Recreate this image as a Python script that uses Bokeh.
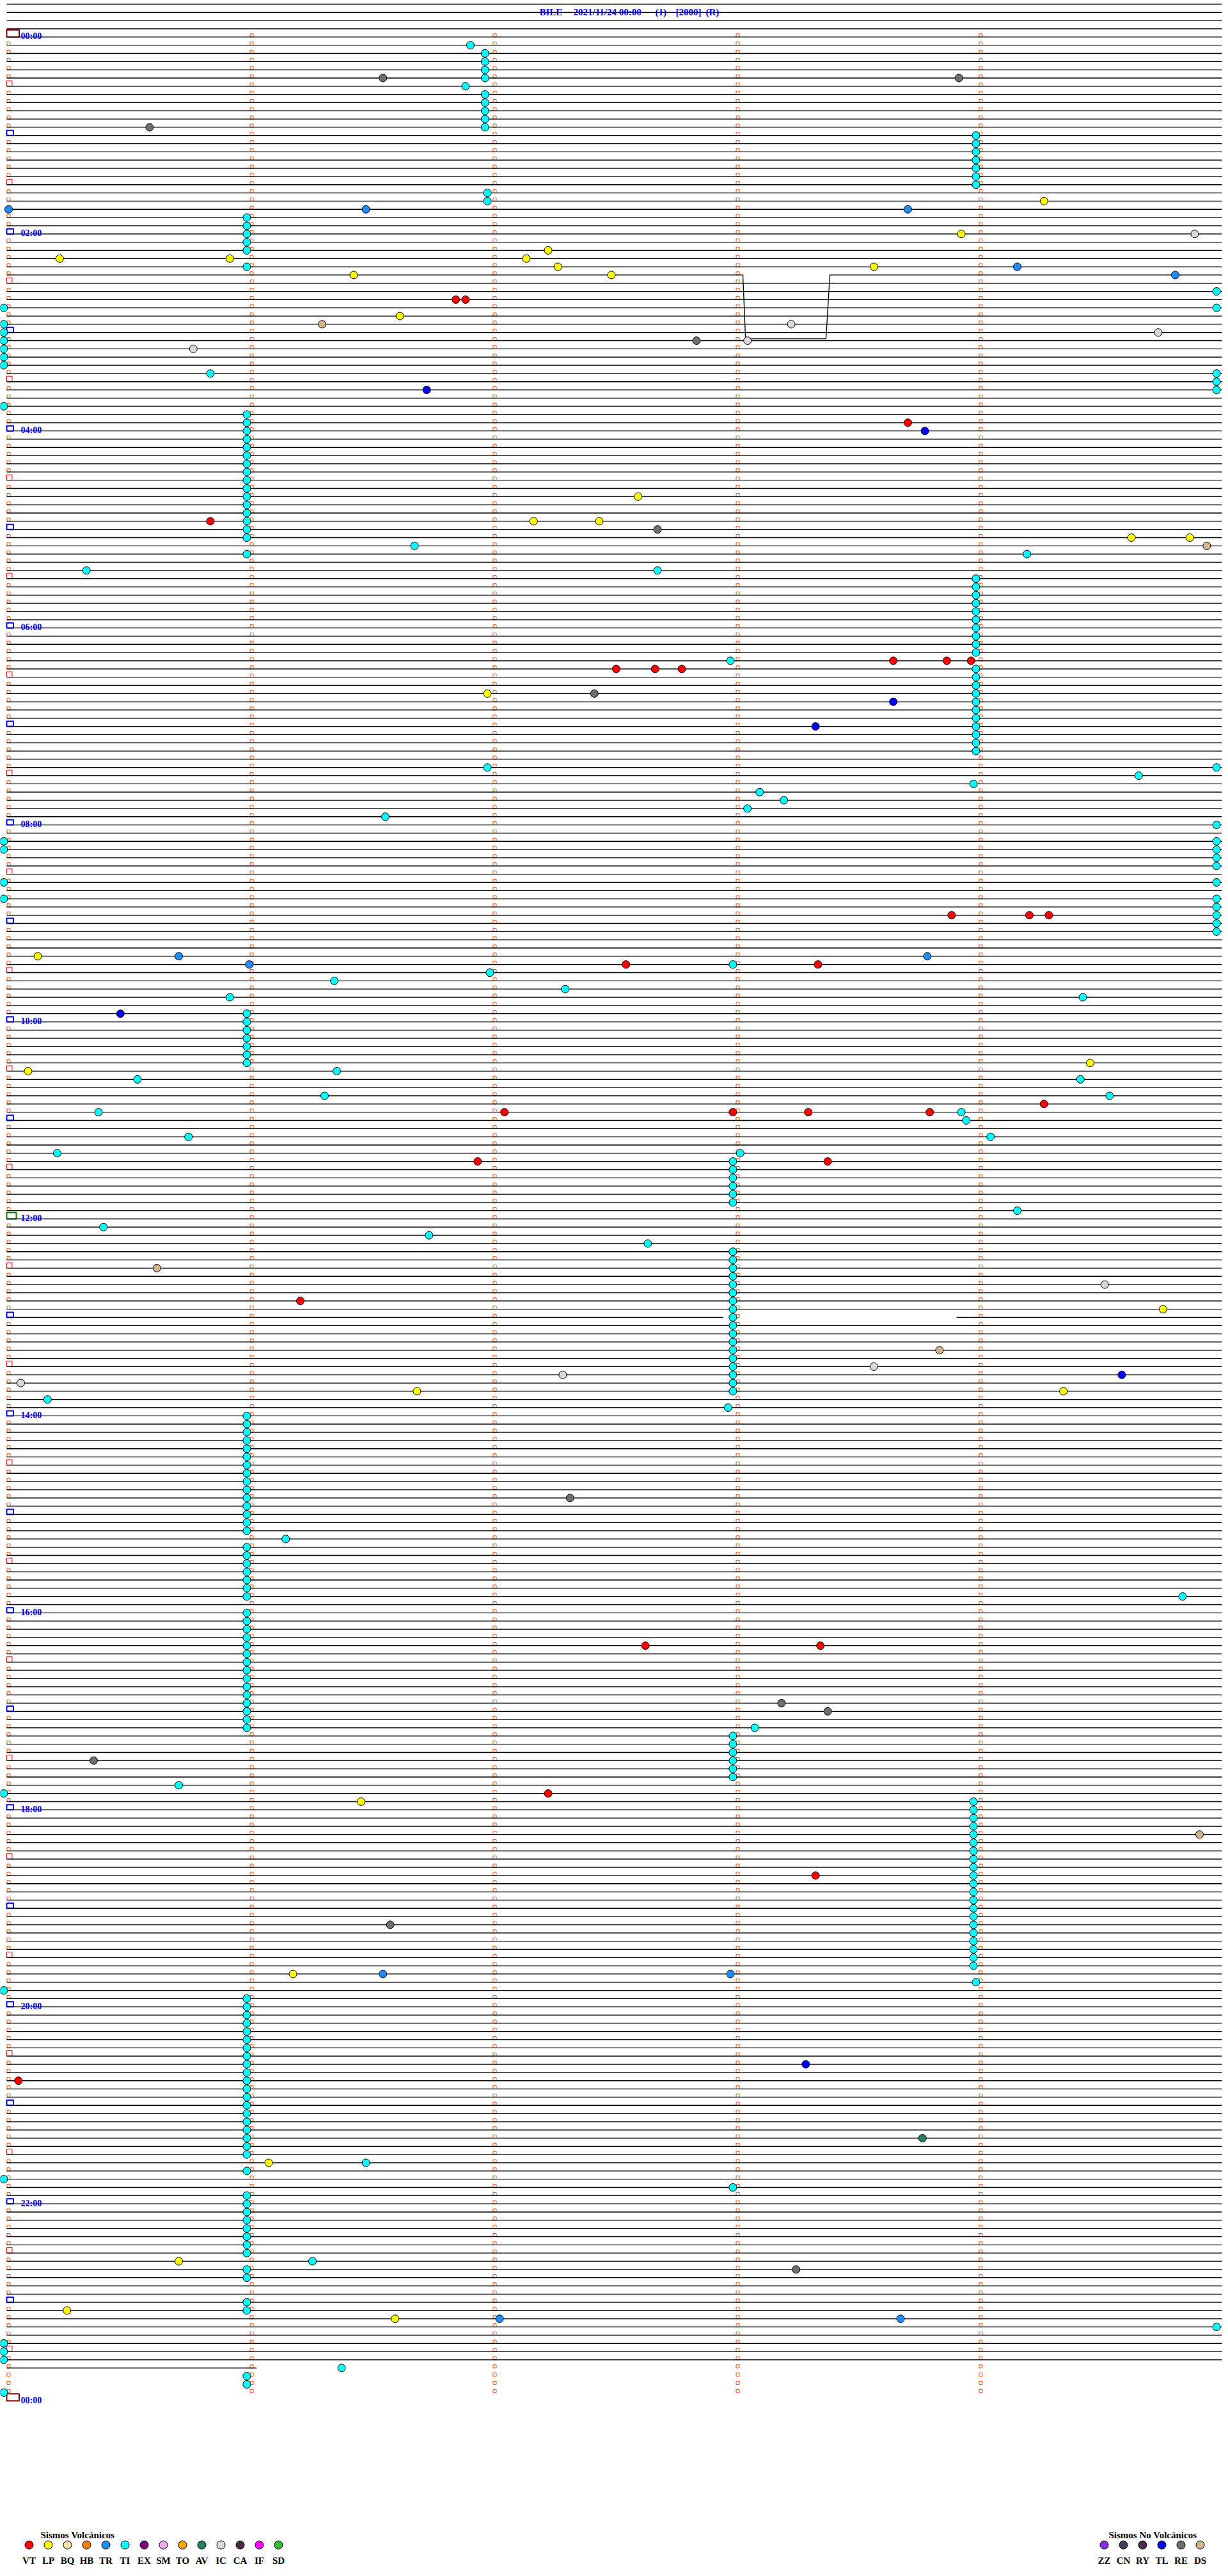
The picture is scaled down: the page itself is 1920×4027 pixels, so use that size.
from bokeh.plotting import figure
from bokeh.models import Range1d
from bokeh.core.properties import value
from bokeh.embed import file_html
from bokeh.resources import INLINE

# ---------------- data ----------------
TITLE_PARTS = ["BILE", "2021/11/24 00:00", "(1)", "[2000]", "(R)"]
HOUR_LABELS = ["00:00", "02:00", "04:00", "06:00", "08:00", "10:00", "12:00",
               "14:00", "16:00", "18:00", "20:00", "22:00", "00:00"]
N_ROWS = 288            # 5-minute rows in the day
ROW_MINUTES = 5
TRACE_FIRST_ROW = -4
TRACE_LAST_ROW = 284
TRACE_LAST_END = 1.02   # minute where the last trace row stops
GAP_ROW = 156
GAP_FROM = 2.94
GAP_TO = 3.90
EXC_ROW = 29
EXC_X = [3.021, 3.032, 3.363, 3.379]
EXC_DY = [0.0, 7.77, 7.77, 0.0]

TYPES_V = ["VT", "LP", "BQ", "HB", "TR", "TI", "EX", "SM", "TO", "AV", "IC", "CA", "IF", "SD"]
COLORS_V = ["#FF0000", "#FFFF00", "#F2E2A8", "#FF8000", "#1E8CFF", "#00FFFF", "#800080",
            "#F0A8E8", "#FFA500", "#1F7F5F", "#D8D8D8", "#4A2A4A", "#FF00FF", "#30C030"]
TYPES_NV = ["ZZ", "CN", "RY", "TL", "RE", "DS"]
COLORS_NV = ["#8A2BE2", "#4C3A5C", "#4A2A4A", "#0000FF", "#6E6E6E", "#D2B48C"]

# events: row index (5-min row) and minute inside the row
TI_ROW = [1, 2, 3, 4, 5, 6, 7, 8, 9, 10, 11,
          12, 13, 14, 15, 16, 17, 18, 19, 20,
          22, 23, 24, 25, 26, 28, 31, 33, 33,
          35, 36, 37, 38, 39, 40, 41, 41, 42, 43, 45,
          46, 47, 48, 49, 50, 51, 52, 53, 54, 55, 56, 57, 58, 59, 60, 61,
          62, 63, 63, 65, 65,
          66, 67, 68, 69, 70, 71, 72, 73, 74, 75, 76,
          77, 78, 79, 80, 81, 82, 83, 84, 85, 86, 87,
          89, 89, 90, 91, 92, 93, 94, 95, 96,
          98, 98, 99, 99, 100, 101, 103, 103, 105, 105, 106, 107, 108, 109,
          113, 114, 115, 116, 117, 117,
          119, 120, 121, 122, 123, 124, 125, 126, 127, 127, 129, 129,
          131, 131, 132, 134, 134, 136, 136,
          137, 138, 139, 140, 141, 142, 143, 145, 146, 147,
          148, 149, 150, 151, 152, 153, 154, 155, 156, 157, 158, 159,
          160, 161, 162, 163, 164, 165, 166, 167,
          168, 169, 170, 171, 172, 173, 174, 175, 176, 177, 178, 179, 180, 181, 182,
          183, 184, 185, 186, 187, 188, 189, 190, 190,
          192, 193, 194, 195, 196, 197, 198, 199, 200, 201, 202, 203, 204, 205, 206,
          206, 207, 208, 209, 210, 211, 212, 213, 214,
          215, 216, 217, 218, 219, 220, 221, 222, 223, 224, 225, 226, 227, 228,
          229, 230, 231, 232, 233, 234, 235, 237, 238,
          239, 240, 241, 242, 243, 244, 245, 246, 247, 248, 249, 250, 251, 252,
          253, 254, 255, 256, 257, 258, 259, 260, 261, 262,
          263, 264, 265, 266, 267, 268, 269, 270, 271, 272, 273, 276, 277, 279,
          281, 282, 283, 284, 285, 286, 287]
TI_MIN = [1.90, 1.96, 1.96, 1.96, 1.96, 1.88, 1.96, 1.96, 1.96, 1.96, 1.96,
          3.98, 3.98, 3.98, 3.98, 3.98, 3.98, 3.98, 1.97, 1.97,
          0.98, 0.98, 0.98, 0.98, 0.98, 0.98, 4.97, -0.02, 4.97,
          -0.02, -0.02, -0.02, -0.02, -0.02, -0.02, 0.83, 4.97, 4.97, 4.97, -0.02,
          0.98, 0.98, 0.98, 0.98, 0.98, 0.98, 0.98, 0.98, 0.98, 0.98, 0.98, 0.98, 0.98, 0.98, 0.98, 0.98,
          1.67, 0.98, 4.19, 0.32, 2.67,
          3.98, 3.98, 3.98, 3.98, 3.98, 3.98, 3.98, 3.98, 3.98, 3.98, 2.97,
          3.98, 3.98, 3.98, 3.98, 3.98, 3.98, 3.98, 3.98, 3.98, 3.98, 3.98,
          1.97, 4.97, 4.65, 3.97, 3.09, 3.19, 3.04, 1.55, 4.97,
          -0.02, 4.97, -0.02, 4.97, 4.97, 4.97, -0.02, 4.97, -0.02, 4.97, 4.97, 4.97, 4.97, 4.97,
          2.98, 1.98, 1.34, 2.29, 0.91, 4.42,
          0.98, 0.98, 0.98, 0.98, 0.98, 0.98, 0.98, 1.35, 0.53, 4.41, 1.30, 4.53,
          0.37, 3.92, 3.94, 0.74, 4.04, 0.20, 3.01,
          2.98, 2.98, 2.98, 2.98, 2.98, 2.98, 4.15, 0.39, 1.73, 2.63,
          2.98, 2.98, 2.98, 2.98, 2.98, 2.98, 2.98, 2.98, 2.98, 2.98, 2.98, 2.98,
          2.98, 2.98, 2.98, 2.98, 2.98, 2.98, 0.16, 2.96,
          0.98, 0.98, 0.98, 0.98, 0.98, 0.98, 0.98, 0.98, 0.98, 0.98, 0.98, 0.98, 0.98, 0.98, 0.98,
          1.14, 0.98, 0.98, 0.98, 0.98, 0.98, 0.98, 0.98, 4.83,
          0.98, 0.98, 0.98, 0.98, 0.98, 0.98, 0.98, 0.98, 0.98, 0.98, 0.98, 0.98, 0.98, 0.98, 0.98,
          3.07, 2.98, 2.98, 2.98, 2.98, 2.98, 2.98, 0.70, -0.02,
          3.97, 3.97, 3.97, 3.97, 3.97, 3.97, 3.97, 3.97, 3.97, 3.97, 3.97, 3.97, 3.97, 3.97,
          3.97, 3.97, 3.97, 3.97, 3.97, 3.97, 3.97, 3.98, -0.02,
          0.98, 0.98, 0.98, 0.98, 0.98, 0.98, 0.98, 0.98, 0.98, 0.98, 0.98, 0.98, 0.98, 0.98,
          0.98, 0.98, 0.98, 0.98, 0.98, 0.98, 1.47, 0.98, -0.02, 2.98,
          0.98, 0.98, 0.98, 0.98, 0.98, 0.98, 0.98, 0.98, 1.25, 0.98, 0.98, 0.98, 0.98, 4.97,
          -0.02, -0.02, -0.02, 1.37, 0.98, 0.98, -0.02]

LP_ROW = [20, 24, 26, 27, 27, 27, 28, 28, 29, 29, 34, 56, 59, 59, 61, 61, 80,
          112, 125, 126, 155, 165, 165, 215, 236, 259, 271, 277, 278]
LP_MIN = [4.26, 3.92, 2.22, 0.21, 0.91, 2.13, 2.26, 3.56, 1.42, 2.48, 1.61, 2.59, 2.16, 2.43, 4.62, 4.86, 1.97,
          0.12, 4.45, 0.08, 4.75, 1.68, 4.34, 1.45, 1.17, 1.07, 0.70, 0.24, 1.59]

VT_ROW = [32, 32, 47, 59, 76, 76, 76, 77, 77, 77, 107, 107, 107, 113, 113, 130,
          131, 131, 131, 131, 137, 137, 154, 196, 196, 214, 224, 249]
VT_MIN = [1.84, 1.88, 3.70, 0.83, 3.64, 3.86, 3.96, 2.50, 2.66, 2.77, 3.88, 4.20, 4.28, 2.54, 3.33, 4.26,
          2.04, 2.98, 3.29, 3.79, 1.93, 3.37, 1.20, 2.62, 3.34, 2.22, 3.32, 0.04]

TR_ROW = [21, 21, 21, 28, 29, 112, 112, 113, 236, 236, 278, 278]
TR_MIN = [0.00, 1.47, 3.70, 4.15, 4.80, 0.70, 3.78, 0.99, 1.54, 2.97, 2.02, 3.67]

TL_ROW = [43, 48, 81, 84, 119, 163, 247]
TL_MIN = [1.72, 3.77, 3.64, 3.32, 0.46, 4.58, 3.28]

RE_ROW = [5, 5, 11, 37, 60, 80, 178, 203, 204, 210, 230, 272]
RE_MIN = [1.54, 3.91, 0.58, 2.83, 2.67, 2.41, 2.31, 3.18, 3.37, 0.35, 1.57, 3.24]

IC_ROW = [24, 35, 36, 37, 38, 152, 162, 163, 164]
IC_MIN = [4.88, 3.22, 4.73, 3.04, 0.76, 4.51, 3.56, 2.28, 0.05]

DS_ROW = [35, 62, 150, 160, 219]
DS_MIN = [1.29, 4.93, 0.61, 3.83, 4.90]

AV_ROW = [256]
AV_MIN = [3.76]

EVENTS = [("TI", TI_ROW, TI_MIN), ("LP", LP_ROW, LP_MIN), ("VT", VT_ROW, VT_MIN),
          ("TR", TR_ROW, TR_MIN), ("TL", TL_ROW, TL_MIN), ("RE", RE_ROW, RE_MIN),
          ("IC", IC_ROW, IC_MIN), ("DS", DS_ROW, DS_MIN), ("AV", AV_ROW, AV_MIN)]

# ---------------- layout helpers (reference pixel -> data) ----------------
PX_PER_MIN = 380.0
PX_PER_ROW = 12.831
X0_PX = 13.0
Y0_PX = 57.3
W, H = 1920, 4027


def X(px):
    return (px - X0_PX) / PX_PER_MIN


def Y(py):
    return (py - Y0_PX) / PX_PER_ROW


def DX(px):
    return px / PX_PER_MIN


def DY(py):
    return py / PX_PER_ROW


COLOR = dict(zip(TYPES_V + TYPES_NV, COLORS_V + COLORS_NV))
SERIF = value("Liberation Serif")

p = figure(width=W, height=H, output_backend="svg", toolbar_location=None,
           x_range=Range1d(X(0), X(W)), y_range=Range1d(Y(H), Y(0)),
           min_border=0, background_fill_color="white", border_fill_color="white",
           outline_line_color=None)
p.axis.visible = False
p.grid.visible = False

# ---- minute tick markers ----
ml, mr, mt, mb = [], [], [], []
for r in range(N_ROWS):
    for c in range(ROW_MINUTES):
        if c == 0 and r % 6 == 0:
            continue
        ml.append(c - DX(2.5)); mr.append(c + DX(2.5))
        mt.append(r - DY(5)); mb.append(r)
p.quad(left=ml, right=mr, top=mt, bottom=mb, fill_color=None,
       line_color="#FF4A00", line_width=1)

# half-hour red squares
hr = [r for r in range(N_ROWS) if r % 12 == 6]
p.quad(left=[X(10)] * len(hr), right=[X(18.5)] * len(hr), top=[r - DY(8.5) for r in hr],
       bottom=hr, fill_color=None, line_color="#FF0000", line_width=1)
# hour markers
blue = [r for r in range(N_ROWS) if r % 12 == 0 and r % 144 != 0]
p.quad(left=[X(10)] * len(blue), right=[X(20.5)] * len(blue), top=[r - DY(8) for r in blue],
       bottom=blue, fill_color=None, line_color="#0000FF", line_width=2)
p.quad(left=[X(10)], right=[X(25)], top=[144 - DY(10)], bottom=[144],
       fill_color=None, line_color="#008000", line_width=2)
p.quad(left=[X(10)] * 2, right=[X(29.5)] * 2, top=[0 - DY(11), N_ROWS - DY(11)],
       bottom=[0, N_ROWS], fill_color=None, line_color="#800000", line_width=2)

# ---- trace lines ----
xs, ys = [], []
x_start, x_end = X(10), X(1910)
for r in range(TRACE_FIRST_ROW, TRACE_LAST_ROW + 1):
    if r == EXC_ROW:
        xs.append([x_start] + EXC_X + [x_end])
        ys.append([r] + [r + d for d in EXC_DY] + [r])
    elif r == GAP_ROW:
        xs.append([x_start, GAP_FROM]); ys.append([r, r])
        xs.append([GAP_TO, x_end]); ys.append([r, r])
    elif r == TRACE_LAST_ROW:
        xs.append([x_start, TRACE_LAST_END]); ys.append([r, r])
    else:
        xs.append([x_start, x_end]); ys.append([r, r])
p.multi_line(xs, ys, line_color="black", line_width=1.35)

# ---- events ----
for name, rows, mins in EVENTS:
    p.scatter(x=mins, y=rows, size=12, marker="circle", fill_color=COLOR[name],
              line_color="black", line_width=1)

# ---- hour labels ----
lab_rows = [i * 24 for i in range(len(HOUR_LABELS))]
p.text(x=[X(32)] * len(lab_rows), y=[r - DY(1) for r in lab_rows], text=HOUR_LABELS,
       text_font=SERIF, text_font_style="bold", text_font_size="14px",
       text_color="#0000FF", text_baseline="alphabetic", text_align="left")

# ---- title ----
title_left_px = [843, 896, 1024, 1056, 1103]
p.text(x=[X(v) for v in title_left_px], y=[Y(18)] * len(TITLE_PARTS), text=TITLE_PARTS,
       text_font=SERIF, text_font_style="bold", text_font_size="15px",
       text_color="#0000FF", text_baseline="alphabetic", text_align="left")

# ---- legends ----
lv_x = [X(45 + 30 * i) for i in range(len(TYPES_V))]
p.scatter(x=lv_x, y=[Y(3978)] * len(lv_x), size=13, marker="circle",
          fill_color=COLORS_V, line_color="black", line_width=1)
p.text(x=lv_x, y=[Y(4002)] * len(lv_x), text=TYPES_V, text_font=SERIF,
       text_font_style="bold", text_font_size="15px", text_color="black",
       text_align="center", text_baseline="alphabetic")
p.text(x=[X(63)], y=[Y(3962)], text=["Sismos Volcánicos"], text_font=SERIF,
       text_font_style="bold", text_font_size="15px", text_color="black",
       text_align="left", text_baseline="alphabetic")

ln_x = [X(1726 + 30 * i) for i in range(len(TYPES_NV))]
p.scatter(x=ln_x, y=[Y(3978)] * len(ln_x), size=13, marker="circle",
          fill_color=COLORS_NV, line_color="black", line_width=1)
p.text(x=ln_x, y=[Y(4002)] * len(ln_x), text=TYPES_NV, text_font=SERIF,
       text_font_style="bold", text_font_size="15px", text_color="black",
       text_align="center", text_baseline="alphabetic")
p.text(x=[X(1733)], y=[Y(3962)], text=["Sismos No Volcánicos"], text_font=SERIF,
       text_font_style="bold", text_font_size="15px", text_color="black",
       text_align="left", text_baseline="alphabetic")

open("out.html", "w").write(file_html(p, INLINE))
